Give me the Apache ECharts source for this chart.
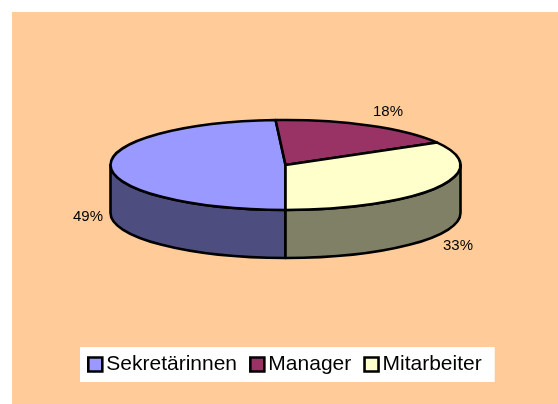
<!DOCTYPE html>
<html lang="de">
<head>
    <meta charset="UTF-8">
    <title>Pie</title>
    <script src="https://cdn.jsdelivr.net/npm/echarts@6/dist/echarts.min.js"></script>
    <style>
        html, body { margin: 0; padding: 0; background: #fff; }
        #main { width: 558px; height: 404px; }
    </style>
</head>
<body>
    <div id="main"></div>
    <script>
        var categories = ['Sekretärinnen', 'Manager', 'Mitarbeiter'];
        var values = [49.1, 17.6, 33.3];
        var topColors = ['#9999FF', '#993366', '#FFFFCC'];
        var sideColors = ['#4D4D80', '#4D1A33', '#808066'];

        // ellipse of the top face, in pixels
        var cx = 285.5, cy = 165, rx = 175, ry = 45, depth = 48;
        var startAngle = 180;
        var labelPos = [[88, 217], [388, 111.5], [458, 246]];
        var total = values.reduce(function (a, b) { return a + b; }, 0);

        function px(deg) { return cx + rx * Math.sin(deg * Math.PI / 180); }
        function py(deg) { return cy - ry * Math.cos(deg * Math.PI / 180); }

        // start angle of slice i, clockwise from 12 o'clock
        function sliceStart(i) {
            var sum = 0;
            for (var k = 0; k < i; k++) sum += values[k];
            return startAngle + sum / total * 360;
        }

        function renderSlice(params, api) {
            var i = params.seriesIndex;
            var a0 = sliceStart(i);
            var a1 = a0 + api.value(0) / total * 360;
            var children = [];
            var line = { stroke: '#000', lineWidth: 2.6, lineJoin: 'round' };

            // only the front half of the rim can be seen (90..270 deg, also after a full turn)
            [0, 360].forEach(function (turn) {
                var s0 = Math.max(a0, 90 + turn), s1 = Math.min(a1, 270 + turn);
                if (s1 <= s0) return;
                children.push({
                    type: 'path',
                    z2: 1,
                    shape: {
                        pathData: 'M' + px(s0) + ' ' + py(s0) +
                            'A' + rx + ' ' + ry + ' 0 0 1 ' + px(s1) + ' ' + py(s1) +
                            'L' + px(s1) + ' ' + (py(s1) + depth) +
                            'A' + rx + ' ' + ry + ' 0 0 0 ' + px(s0) + ' ' + (py(s0) + depth) + 'Z'
                    },
                    style: Object.assign({ fill: sideColors[i] }, line)
                });
            });

            children.push({
                type: 'path',
                z2: 2,
                shape: {
                    pathData: 'M' + cx + ' ' + cy +
                        'L' + px(a0) + ' ' + py(a0) +
                        'A' + rx + ' ' + ry + ' 0 ' + (a1 - a0 > 180 ? 1 : 0) + ' 1 ' + px(a1) + ' ' + py(a1) + 'Z'
                },
                style: Object.assign({ fill: topColors[i] }, line)
            });

            children.push({
                type: 'text',
                z2: 3,
                style: {
                    x: labelPos[i][0],
                    y: labelPos[i][1],
                    text: Math.round(api.value(0)) + '%',
                    fill: '#000',
                    font: '15px "Liberation Sans"',
                    align: 'center',
                    verticalAlign: 'middle'
                }
            });
            return { type: 'group', children: children };
        }

        var myChart = echarts.init(document.getElementById('main'));
        var option = {
            animation: false,
            textStyle: { fontFamily: 'Liberation Sans' },
            graphic: [{
                type: 'rect',
                z: -10,
                silent: true,
                shape: { x: 12, y: 12, width: 546, height: 392 },
                style: { fill: '#FFCC99' }
            }],
            legend: {
                left: 80,
                top: 347,
                padding: [7, 13, 7, 7],
                backgroundColor: '#fff',
                itemWidth: 14,
                itemHeight: 14,
                itemGap: 12,
                selectedMode: false,
                icon: 'rect',
                itemStyle: { borderColor: '#000', borderWidth: 2.6 },
                textStyle: { fontSize: 21, color: '#000', fontFamily: 'Liberation Sans', padding: [1, 0, 0, -1] },
                data: categories
            },
            series: categories.map(function (name, i) {
                return {
                    name: name,
                    type: 'custom',
                    coordinateSystem: 'none',
                    silent: true,
                    itemStyle: { color: topColors[i] },
                    renderItem: renderSlice,
                    data: [[values[i]]]
                };
            })
        };
        myChart.setOption(option);
    </script>
</body>
</html>
